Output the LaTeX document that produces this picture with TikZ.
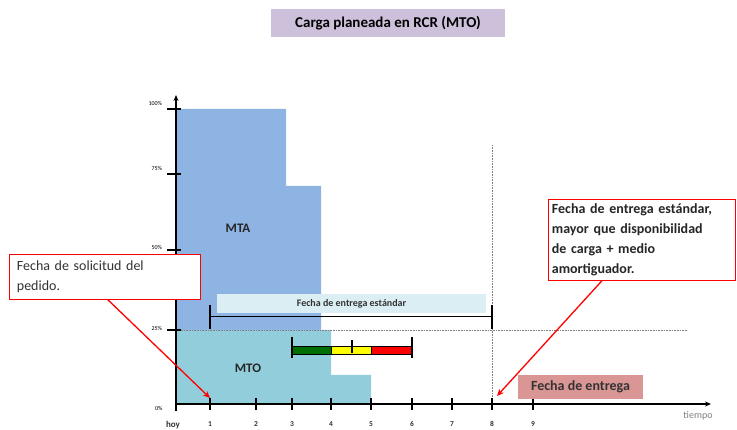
\documentclass[tikz,border=0pt]{standalone}
\usepackage{fontspec}
\setmainfont{Carlito}
\usetikzlibrary{arrows.meta}
\definecolor{mtablue}{RGB}{141,180,226}
\definecolor{mtoblue}{RGB}{146,205,220}
\definecolor{titlelila}{RGB}{204,192,218}
\definecolor{stdcyan}{RGB}{218,238,243}
\definecolor{entregarosa}{RGB}{217,150,148}
\definecolor{verde}{RGB}{0,110,0}
\definecolor{amarillo}{RGB}{255,255,0}
\definecolor{rojo}{RGB}{255,0,0}
\definecolor{textogris}{RGB}{50,50,50}

\tikzset{
	eje/.style={line width=1.3pt, -{Stealth[length=6pt,width=5pt]}},
	marca/.style={line width=1.5pt},
	pct/.style={anchor=east, font=\fontsize{6}{7}\selectfont},
	num/.style={font=\bfseries\fontsize{7.5}{8}\selectfont, text=textogris},
	guia/.style={gray, densely dotted, line width=0.6pt},
	llamada/.style={draw=rojo, line width=0.8pt, fill=white, align=left, anchor=north west},
	flecha/.style={rojo, line width=1.3pt, -{Stealth[length=7pt,width=6pt]}}
}

\begin{document}
\begin{tikzpicture}[x=1pt,y=-1pt]
			\useasboundingbox (0,0) rectangle (737,430);
			% titulo
			\node [fill=titlelila, minimum width=234, minimum height=28, font=\bfseries\fontsize{15}{18}\selectfont] (titulo) at (388,23) {Carga planeada en RCR (MTO)};
			% cargas
			\filldraw [draw=none, fill=mtablue] (176,109) -- (286,109) -- (286,186) -- (321,186) -- (321,330) -- (176,330) -- cycle;
			\filldraw [draw=none, fill=mtoblue] (176,330) -- (331,330) -- (331,375) -- (371,375) -- (371,404) -- (176,404) -- cycle;
			\node [font=\bfseries\fontsize{13}{15}\selectfont, text=black!85] (mta) at (238,228) {MTA};
			\node [font=\bfseries\fontsize{13}{15}\selectfont, text=black!85] (mto) at (248,368) {MTO};
			% lineas guia
			\draw [guia] (176,330) -- (687,330);
			\draw [guia] (492,145) -- (492,404);
			% fecha de entrega estandar
			\node [fill=stdcyan, minimum width=269, minimum height=19, font=\bfseries\fontsize{10}{12}\selectfont, text=black!80] (estandar) at (351.5,303.5) {Fecha de entrega estándar};
			\draw [line width=1pt] (210,317) -- (492,317);
			\draw [marca] (210,305) -- (210,329);
			\draw [marca] (492,305) -- (492,329);
			% amortiguador
			\filldraw [draw=black, fill=verde] (292,346) rectangle (331,354);
			\filldraw [draw=black, fill=amarillo] (331,346) rectangle (371,354);
			\filldraw [draw=black, fill=rojo] (371,346) rectangle (412,354);
			\draw [marca] (292,337) -- (292,358);
			\draw [marca] (412,337) -- (412,358);
			\draw [marca] (352,340) -- (352,353);
			% ejes
			\draw [eje] (176,404) -- (711,404);
			\draw [eje] (176,411) -- (176,95);
			\node [font=\fontsize{10}{12}\selectfont, text=gray] (tiempo) at (698,416) {tiempo};
			% marcas del eje y
			\draw [marca] (167,109) -- (181,109) node [pct] at (166,103) {100\%};
			\draw [marca] (167,174) -- (181,174) node [pct] at (166,168) {75\%};
			\draw [marca] (167,250) -- (181,250) node [pct] at (166,247) {50\%};
			\draw [marca] (167,330) -- (181,330) node [pct] at (166,328) {25\%};
			\node [pct] at (166,408) {0\%};
			% marcas del eje x
			\node [font=\bfseries\fontsize{9}{10}\selectfont, text=textogris] (hoy) at (173,425) {hoy};
			\draw [marca] (210,398) -- (210,410) node [num] at (210,424) {1};
			\draw [marca] (256,398) -- (256,410) node [num] at (256,424) {2};
			\draw [marca] (292,398) -- (292,410) node [num] at (292,424) {3};
			\draw [marca] (331,398) -- (331,410) node [num] at (331,424) {4};
			\draw [marca] (371,398) -- (371,410) node [num] at (371,424) {5};
			\draw [marca] (412,398) -- (412,410) node [num] at (412,424) {6};
			\draw [marca] (452,398) -- (452,410) node [num] at (452,424) {7};
			\draw [marca] (492,398) -- (492,410) node [num] at (492,424) {8};
			\draw [marca] (533,398) -- (533,410) node [num] at (533,424) {9};
			% llamadas
			\node [llamada, text width=176, inner xsep=7.5, minimum height=45, text=textogris, font=\fontsize{14}{20}\selectfont] (solicitud) at (9,254) {Fecha de solicitud del\\pedido.};
			\node [llamada, text width=180, inner xsep=3.5, minimum height=81, font=\bfseries\fontsize{14}{20}\selectfont, text=black!85] (aviso) at (548,199) {Fecha de entrega estándar,\\mayor que disponibilidad\\de carga + medio\\amortiguador.};
			\node [fill=entregarosa, minimum width=125, minimum height=24, font=\bfseries\fontsize{14}{16}\selectfont, text=black!80] (entrega) at (580.5,387) {Fecha de entrega};
			\coordinate (dia1) at (210,398);
			\coordinate (dia8) at (497,396);
			\draw [flecha] ([xshift=3]solicitud.south) -- (dia1);
			\draw [flecha] ([xshift=-40]aviso.south) -- (dia8);
		\end{tikzpicture}
\end{document}
